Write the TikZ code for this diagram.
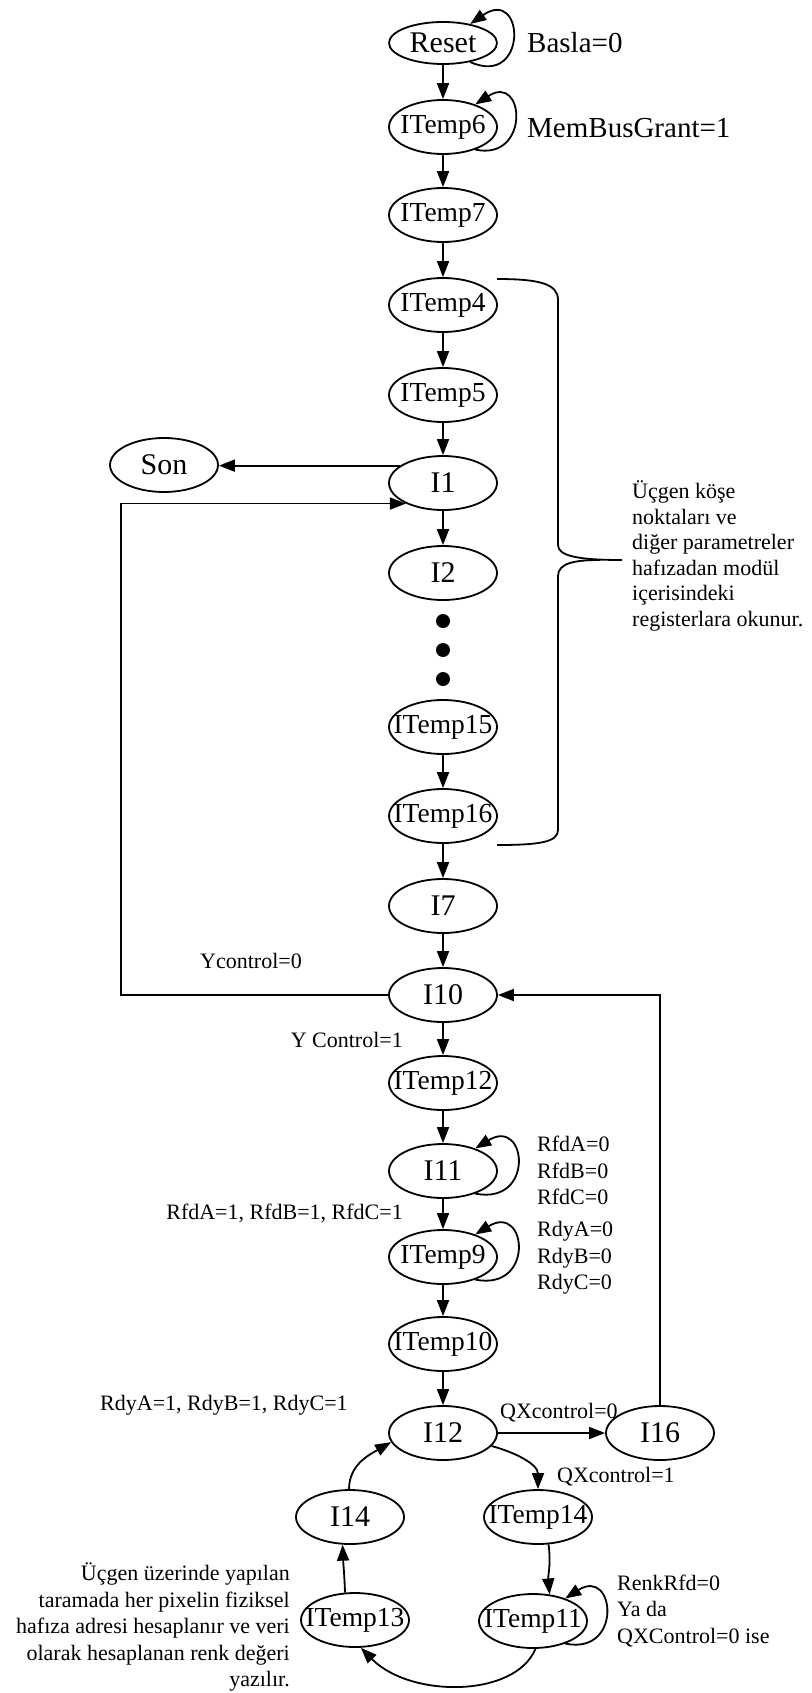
\documentclass[tikz,border=0pt]{standalone}
\usepackage{fontspec}
\setmainfont{Liberation Serif}
\usetikzlibrary{shapes.geometric,arrows.meta}
\newcommand{\mbx}[1]{\makebox[0pt]{#1}}
\begin{document}
\begin{tikzpicture}[x=1pt,y=1pt,
  st/.style={draw, ellipse, line width=1.8pt, minimum width=108pt, minimum height=54pt,
             inner sep=0pt, font=\fontsize{30}{30}\selectfont},
  tmp/.style={st, font=\fontsize{27.5}{28}\selectfont},
  arr/.style={line width=1.8pt, -{Triangle[length=16pt,width=12pt]}},
  ln/.style={line width=1.8pt},
  lab/.style={inner sep=0pt, font=\fontsize{22}{26.5}\selectfont},
  biglab/.style={inner sep=0pt, font=\fontsize{29}{30}\selectfont},
  dot/.style={fill=black, circle, inner sep=0pt, minimum size=14pt}]
\useasboundingbox (0,0) rectangle (811,-1693);

% states of the main column
\node[st, minimum height=42pt] (reset) at (443,-43) {\mbx{Reset}};
\node[tmp] (t6)  at (443,-127) {\mbx{ITemp6}};
\node[tmp] (t7)  at (443,-215) {\mbx{ITemp7}};
\node[tmp] (t4)  at (443,-305) {\mbx{ITemp4}};
\node[tmp] (t5)  at (443,-395) {\mbx{ITemp5}};
\node[st]  (i1)  at (443,-483) {\mbx{I1}};
\node[st]  (son) at (164,-465) {\mbx{Son}};
\node[st]  (i2)  at (443,-573) {\mbx{I2}};
\node[dot] (d1) at (443,-621) {};
\node[dot] (d2) at (443,-650) {};
\node[dot] (d3) at (443,-679) {};
\node[tmp] (t15) at (443,-727) {\mbx{ITemp15}};
\node[tmp] (t16) at (443,-816) {\mbx{ITemp16}};
\node[st]  (i7)  at (443,-906) {\mbx{I7}};
\node[st]  (i10) at (443,-995) {\mbx{I10}};
\node[tmp] (t12) at (443,-1083) {\mbx{ITemp12}};
\node[st]  (i11) at (443,-1171) {\mbx{I11}};
\node[tmp] (t9)  at (443,-1257) {\mbx{ITemp9}};
\node[tmp] (t10) at (443,-1344) {\mbx{ITemp10}};
\node[st]  (i12) at (443,-1433) {\mbx{I12}};
\node[st]  (i16) at (660,-1433) {\mbx{I16}};
\node[st]  (i14) at (350,-1517) {\mbx{I14}};
\node[tmp] (t14) at (538,-1517) {\mbx{ITemp14}};
\node[tmp] (t13) at (355,-1620) {\mbx{ITemp13}};
\node[tmp] (t11) at (533,-1621) {\mbx{ITemp11}};

% straight transitions
\draw[arr] (reset) -- (t6);
\draw[arr] (t6) -- (t7);
\draw[arr] (t7) -- (t4);
\draw[arr] (t4) -- (t5);
\draw[arr] (t5) -- (i1);
\draw[arr] (i1) -- (i2);
\draw[arr] (t15) -- (t16);
\draw[arr] (t16) -- (i7);
\draw[arr] (i7) -- (i10);
\draw[arr] (i10) -- (t12);
\draw[arr] (t12) -- (i11);
\draw[arr] (i11) -- (t9);
\draw[arr] (t9) -- (t10);
\draw[arr] (t10) -- (i12);
\draw[arr] (i12) -- (i16);
\draw[arr] (i1.158) -- (son.east |- i1.158);

% return paths
\coordinate (cl) at (121,-995);
\draw[arr] (i10.west) -- (cl) |- (i1.209);
\draw[arr] (i16.north) |- (i10.east);

% self loops
\draw[arr] (reset.-35) .. controls +(58,-26) and +(55,38) .. (reset.35);
\draw[arr] (t6.-35) .. controls +(55,-12) and +(50,32) .. (t6.35);
\draw[arr] (i11.-35) .. controls +(60,-12) and +(52,32) .. (i11.35);
\draw[arr] (t9.-35) .. controls +(60,-12) and +(52,32) .. (t9.35);
\draw[arr] (t11.-35) .. controls +(58,-12) and +(50,32) .. (t11.35);

% pixel loop
\draw[arr] (i12.-15) to[out=-15, in=90] (t14.north);
\draw[arr] (t14.-69) to[out=-82, in=95] (t11.58);
\draw[arr] (t11.-85) .. controls (515,-1698) and (410,-1698) .. (t13.-78);
\draw[arr] (t13.110) to[out=92, in=-88] (i14.-105);
\draw[arr] (i14.92) to[out=90, in=-150] (i12.190);

% brace over the parameter read states
\draw[ln] (497,-279) .. controls (540,-279) and (558,-284) .. (558,-300) -- (558,-545)
  .. controls (558,-556) and (578,-560) .. (622,-560);
\draw[ln] (600,-560) .. controls (575,-560) and (558,-563) .. (558,-576) -- (558,-830)
  .. controls (558,-842) and (540,-845) .. (497,-845);

% labels
\node[biglab, anchor=west] (lbasla) at (527,-43) {Basla=0};
\node[biglab, anchor=west] (lmem) at (527,-128) {MemBusGrant=1};
\node[lab, anchor=west] (lyc0) at (200,-961) {Ycontrol=0};
\node[lab, anchor=east] (lyc1) at (403,-1040) {Y Control=1};
\node[lab, anchor=west, align=left] (lrfd0) at (537,-1170.5) {RfdA=0\\RfdB=0\\RfdC=0};
\node[lab, anchor=east] (lrfd1) at (403,-1213) {RfdA=1, RfdB=1, RfdC=1};
\node[lab, anchor=west, align=left] (lrdy0) at (537,-1258) {RdyA=0\\RdyB=0\\RdyC=0};
\node[lab, anchor=west] (lrdy1) at (100,-1405) {RdyA=1, RdyB=1, RdyC=1};
\node[lab, anchor=west] (lqx0) at (500,-1413) {QXcontrol=0};
\node[lab, anchor=west] (lqx1) at (557,-1477) {QXcontrol=1};
\node[lab, anchor=west, align=left] (lrenk) at (617,-1611) {RenkRfd=0\\Ya da\\QXControl=0 ise};
\node[lab, anchor=west, align=left, font=\fontsize{22}{25.6}\selectfont] (lnote) at (632,-556)
  {Üçgen köşe\\noktaları ve\\diğer parametreler\\hafızadan modül\\içerisindeki\\registerlara okunur.};
\node[lab, anchor=east, align=right] (lscan) at (290,-1627)
  {Üçgen üzerinde yapılan\\taramada her pixelin fiziksel\\hafıza adresi hesaplanır ve veri\\olarak hesaplanan renk değeri\\yazılır.};
\end{tikzpicture}
\end{document}
